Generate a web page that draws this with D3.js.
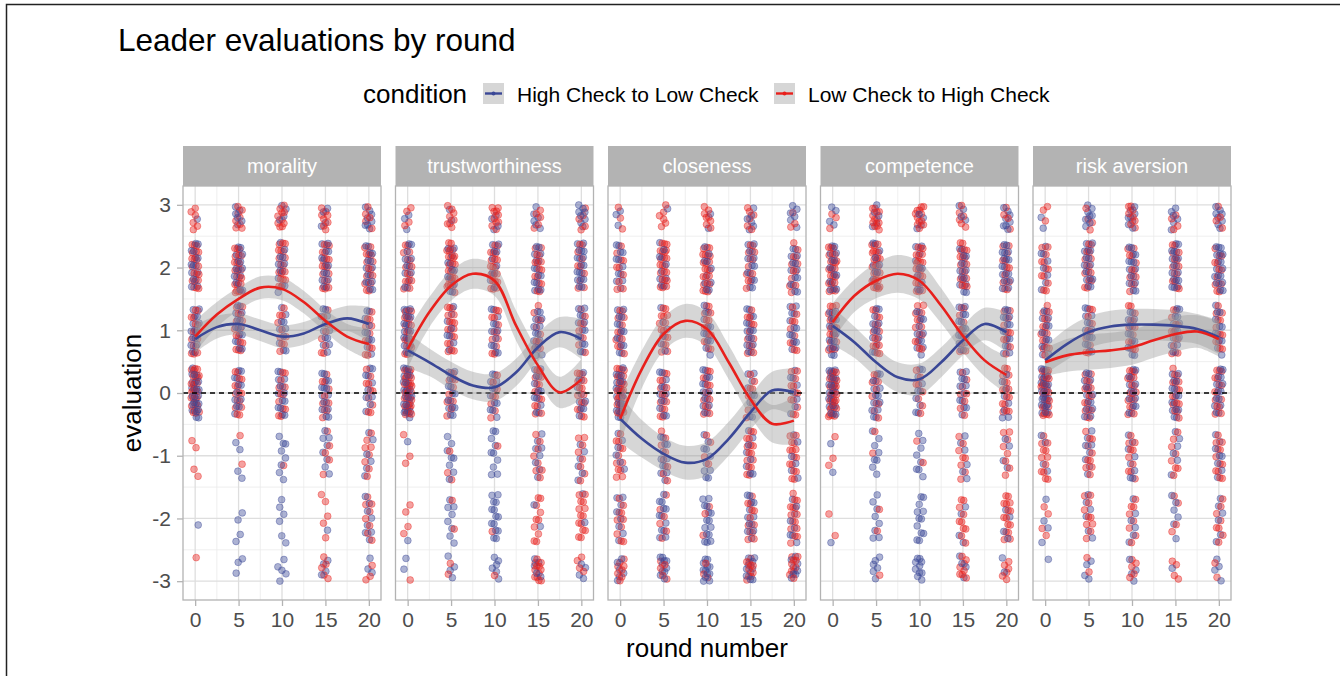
<!DOCTYPE html>
<html lang="en">
<head>
  <meta charset="UTF-8" />
  <title>Leader evaluations by round</title>
  <script src="https://d3js.org/d3.v7.min.js"></script>
  <style>
    body { margin: 0; background: #fff; font-family: "Liberation Sans", Arial, sans-serif; }
    svg text { font-family: "Liberation Sans", Arial, sans-serif; }
  </style>
</head>
<body>
<svg width="1340" height="676"></svg>
<script>
const facets = ["morality", "trustworthiness", "closeness", "competence", "risk aversion"];
const conditions = ["High Check to Low Check", "Low Check to High Check"];
const colors = ["#3A4796", "#E8201C"];
const rounds = [0, 5, 10, 15, 20];
const levels = [3, 2, 1, 0, -1, -2, -3];
const yTicks = [-3, -2, -1, 0, 1, 2, 3];

// point counts per facet -> per round -> per level (3 .. -3)
const countsHigh = [
  [[1,15,15,25,0,1,0],[6,15,15,12,4,4,3],[4,12,10,14,8,6,5],[4,14,12,15,8,1,4],[8,15,10,10,6,8,3]],
  [[3,12,20,25,1,1,2],[2,12,8,15,8,8,4],[4,10,12,12,10,14,6],[6,15,14,12,8,2,5],[8,18,14,10,6,2,4]],
  [[3,12,14,20,6,8,6],[1,10,6,12,12,12,10],[2,10,12,14,10,15,12],[6,14,15,10,8,12,10],[6,14,12,8,6,8,8]],
  [[4,15,18,22,2,1,0],[5,10,12,14,8,8,6],[4,10,12,10,8,12,10],[4,14,15,12,6,4,4],[8,18,15,8,4,4,2]],
  [[2,8,14,25,4,4,1],[8,16,15,14,8,6,4],[8,15,14,14,8,6,4],[6,18,14,15,6,6,1],[8,18,12,14,8,6,4]]
];
const countsLow = [
  [[6,20,15,25,4,0,1],[8,22,15,15,2,0,0],[10,18,10,12,1,0,0],[8,18,8,10,5,5,5],[5,15,12,10,8,8,3]],
  [[4,15,18,30,3,4,1],[8,25,18,10,3,2,2],[10,20,12,8,1,1,1],[5,15,10,14,8,10,12],[5,10,8,15,8,14,4]],
  [[3,10,12,25,12,10,8],[6,22,15,14,8,6,5],[8,22,14,14,4,3,3],[6,12,12,8,15,12,10],[3,12,10,12,15,15,10]],
  [[3,22,18,28,3,2,0],[12,25,15,10,2,2,1],[12,22,14,8,2,0,0],[6,18,10,8,8,10,8],[4,12,10,16,8,15,6]],
  [[3,12,15,25,12,4,0],[4,14,10,16,10,10,2],[8,12,12,18,10,8,5],[4,14,12,16,8,4,4],[4,12,12,15,12,8,2]]
];

// smoothed fits (loess) sampled every 2.5 rounds, and their band half widths
const smoothX = [0, 2.5, 5, 7.5, 10, 12.5, 15, 17.5, 20];
const fitHigh = [
  [0.86, 1.05, 1.10, 1.00, 0.90, 0.95, 1.10, 1.19, 1.10],
  [0.68, 0.49, 0.28, 0.12, 0.09, 0.33, 0.73, 0.97, 0.86],
  [-0.41, -0.73, -0.97, -1.11, -1.05, -0.73, -0.31, 0.04, 0.01],
  [1.07, 0.81, 0.49, 0.25, 0.22, 0.49, 0.84, 1.10, 0.97],
  [0.52, 0.78, 0.97, 1.06, 1.09, 1.09, 1.07, 1.02, 0.89]
];
const fitLow = [
  [0.90, 1.25, 1.50, 1.68, 1.66, 1.45, 1.15, 0.90, 0.78],
  [0.70, 1.29, 1.71, 1.90, 1.79, 1.07, 0.44, 0.01, 0.22],
  [-0.41, 0.38, 0.94, 1.15, 1.02, 0.49, -0.10, -0.49, -0.44],
  [1.13, 1.55, 1.79, 1.90, 1.79, 1.39, 0.91, 0.52, 0.29],
  [0.49, 0.60, 0.65, 0.68, 0.73, 0.84, 0.94, 0.98, 0.86]
];
const bandHigh = [
  [0.22, 0.18, 0.17, 0.17, 0.18, 0.18, 0.18, 0.20, 0.28],
  [0.28, 0.22, 0.22, 0.22, 0.22, 0.22, 0.22, 0.24, 0.32],
  [0.38, 0.30, 0.27, 0.27, 0.27, 0.27, 0.27, 0.30, 0.38],
  [0.30, 0.25, 0.24, 0.24, 0.25, 0.24, 0.24, 0.26, 0.32],
  [0.22, 0.25, 0.25, 0.25, 0.25, 0.25, 0.25, 0.24, 0.27]
];
const bandLow = [
  [0.25, 0.20, 0.18, 0.18, 0.18, 0.18, 0.18, 0.20, 0.25],
  [0.30, 0.24, 0.24, 0.24, 0.24, 0.24, 0.24, 0.25, 0.32],
  [0.38, 0.30, 0.27, 0.27, 0.27, 0.27, 0.27, 0.30, 0.38],
  [0.30, 0.26, 0.28, 0.30, 0.30, 0.28, 0.26, 0.26, 0.30],
  [0.22, 0.26, 0.28, 0.28, 0.28, 0.28, 0.28, 0.26, 0.28]
];

const svg = d3.select("svg");

// frame of the source figure
svg.append("rect").attr("x", 6.5).attr("y", 4.5).attr("width", 1400).attr("height", 700)
  .attr("fill", "none").attr("stroke", "#222").attr("stroke-width", 1.5);

const panelTop = 186, panelBottom = 600, stripTop = 146;
const panelW = 198, gap = 14.5, left0 = 183;

const y = d3.scaleLinear().domain([-3.3, 3.3]).range([panelBottom, panelTop]);

// title
svg.append("text").attr("x", 118).attr("y", 51).attr("font-size", 31.5).attr("fill", "#000")
  .text("Leader evaluations by round");

// legend
const legend = svg.append("g");
legend.append("text").attr("x", 363).attr("y", 103).attr("font-size", 26).attr("fill", "#000").text("condition");
const legendX = [483, 774];
conditions.forEach((c, i) => {
  const g = legend.append("g").attr("transform", `translate(${legendX[i]},83)`);
  g.append("rect").attr("width", 21).attr("height", 21).attr("fill", "#D6D6D6");
  g.append("line").attr("x1", 2).attr("x2", 19).attr("y1", 10.5).attr("y2", 10.5)
    .attr("stroke", colors[i]).attr("stroke-width", 2.4);
  g.append("circle").attr("cx", 10.5).attr("cy", 10.5).attr("r", 2).attr("fill", colors[i]);
  g.append("text").attr("x", 34).attr("y", 18.5).attr("font-size", 21).attr("fill", "#000").text(c);
});

// jitter offsets from a fixed low-discrepancy sequence
const frac = v => v - Math.floor(v);

facets.forEach((name, f) => {
  const x0 = left0 + f * (panelW + gap);
  const x = d3.scaleLinear().domain([-1.4, 21.4]).range([x0, x0 + panelW]);
  const g = svg.append("g");

  // strip
  g.append("rect").attr("x", x0).attr("y", stripTop).attr("width", panelW).attr("height", panelTop - stripTop)
    .attr("fill", "#B3B3B3");
  g.append("text").attr("x", x0 + panelW / 2).attr("y", 173).attr("text-anchor", "middle")
    .attr("font-size", 20).attr("fill", "#fff").text(name);

  // grid
  const minorX = [2.5, 7.5, 12.5, 17.5];
  const minorY = [-2.5, -1.5, -0.5, 0.5, 1.5, 2.5];
  g.selectAll(".mx").data(minorX).join("line")
    .attr("x1", d => x(d)).attr("x2", d => x(d)).attr("y1", panelTop).attr("y2", panelBottom)
    .attr("stroke", "#EBEBEB").attr("stroke-width", 0.8);
  g.selectAll(".my").data(minorY).join("line")
    .attr("x1", x0).attr("x2", x0 + panelW).attr("y1", d => y(d)).attr("y2", d => y(d))
    .attr("stroke", "#EBEBEB").attr("stroke-width", 0.8);
  g.selectAll(".gx").data(rounds).join("line")
    .attr("x1", d => x(d)).attr("x2", d => x(d)).attr("y1", panelTop).attr("y2", panelBottom)
    .attr("stroke", "#DEDEDE").attr("stroke-width", 1.3);
  g.selectAll(".gy").data(yTicks).join("line")
    .attr("x1", x0).attr("x2", x0 + panelW).attr("y1", d => y(d)).attr("y2", d => y(d))
    .attr("stroke", "#DEDEDE").attr("stroke-width", 1.3);

  // jittered points
  const pts = [];
  let k = f * 1000 + 1;
  rounds.forEach((r, ri) => {
    levels.forEach((lv, li) => {
      [countsHigh, countsLow].forEach((cnt, ci) => {
        for (let n = 0; n < cnt[f][ri][li]; n++) {
          const u = frac(k * 0.7548776662), v = frac(k * 0.5698402910);
          let dy = (v - 0.5) * 0.8;
          if (lv === 3) dy = -v * 0.4;
          if (lv === -3) dy = v * 0.4;
          pts.push({ r: r + (u - 0.5) * 0.95, v: lv + dy, c: ci, key: frac(k * 0.6180339887) });
          k++;
        }
      });
    });
  });
  pts.sort((a, b) => a.key - b.key);
  g.selectAll(".pt").data(pts).join("circle")
    .attr("cx", d => x(d.r)).attr("cy", d => y(d.v)).attr("r", 3.4)
    .attr("fill", d => colors[d.c]).attr("fill-opacity", 0.42)
    .attr("stroke", d => colors[d.c]).attr("stroke-opacity", 0.5).attr("stroke-width", 0.8);

  // zero line
  g.append("line").attr("x1", x0).attr("x2", x0 + panelW).attr("y1", y(0)).attr("y2", y(0))
    .attr("stroke", "#000").attr("stroke-width", 1.3).attr("stroke-dasharray", "5,4");

  // smooth bands then lines
  const series = [
    { fit: fitHigh[f], band: bandHigh[f], c: 0 },
    { fit: fitLow[f], band: bandLow[f], c: 1 }
  ];
  const area = d3.area().curve(d3.curveCatmullRom)
    .x((d, i) => x(smoothX[i])).y0(d => y(d[0] - d[1])).y1(d => y(d[0] + d[1]));
  const line = d3.line().curve(d3.curveCatmullRom)
    .x((d, i) => x(smoothX[i])).y(d => y(d));
  series.forEach(s => {
    g.append("path").attr("d", area(s.fit.map((v, i) => [v, s.band[i]])))
      .attr("fill", "#999999").attr("fill-opacity", 0.4);
  });
  series.forEach(s => {
    g.append("path").attr("d", line(s.fit)).attr("fill", "none")
      .attr("stroke", colors[s.c]).attr("stroke-width", 2.6);
  });

  // border
  g.append("rect").attr("x", x0).attr("y", panelTop).attr("width", panelW).attr("height", panelBottom - panelTop)
    .attr("fill", "none").attr("stroke", "#B3B3B3").attr("stroke-width", 1.3);

  // x axis
  const xAxis = d3.axisBottom(x).tickValues(rounds).tickSize(6).tickPadding(6);
  const ax = g.append("g").attr("transform", `translate(0,${panelBottom})`).call(xAxis);
  ax.select(".domain").remove();
  ax.selectAll(".tick line").attr("stroke", "#B3B3B3").attr("stroke-width", 1.3);
  ax.selectAll(".tick text").attr("font-size", 21).attr("fill", "#4D4D4D");

  if (f === 0) {
    const yAxis = d3.axisLeft(y).tickValues(yTicks).tickFormat(d => String(d)).tickSize(6).tickPadding(6);
    const ay = g.append("g").attr("transform", `translate(${x0},0)`).call(yAxis);
    ay.select(".domain").remove();
    ay.selectAll(".tick line").attr("stroke", "#B3B3B3").attr("stroke-width", 1.3);
    ay.selectAll(".tick text").attr("font-size", 21).attr("fill", "#4D4D4D");
  }
});

// axis titles
svg.append("text").attr("x", 707).attr("y", 657).attr("text-anchor", "middle")
  .attr("font-size", 26).attr("fill", "#000").text("round number");
svg.append("text").attr("transform", `translate(141,393) rotate(-90)`).attr("text-anchor", "middle")
  .attr("font-size", 26).attr("fill", "#000").text("evaluation");
</script>
</body>
</html>
